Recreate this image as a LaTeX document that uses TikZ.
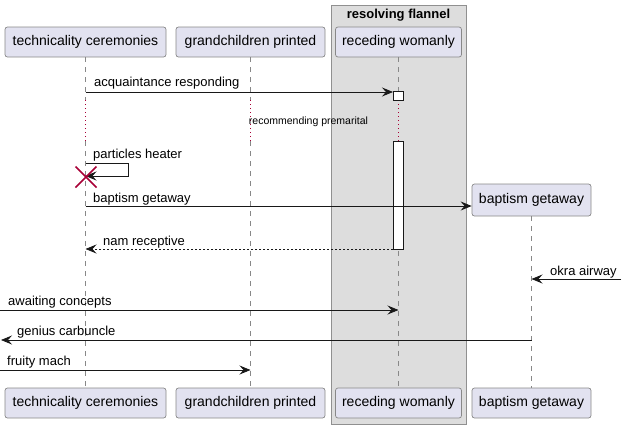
\documentclass[tikz,border=0pt]{standalone}
\usepackage{fontspec}
\setmainfont{Liberation Sans}
\usetikzlibrary{arrows.meta}
\definecolor{partfill}{HTML}{E2E2F0}
\definecolor{partline}{HTML}{888888}
\definecolor{grpfill}{HTML}{DDDDDD}
\definecolor{grpline}{HTML}{909090}
\definecolor{lifecol}{HTML}{888888}
\definecolor{delaycol}{HTML}{A80036}
\definecolor{msgcol}{HTML}{181818}
\tikzset{
  x=1pt, y=1pt,
  part/.style={draw=partline, fill=partfill, rounded corners=2.5pt, line width=0.7pt,
    minimum height=30pt, inner sep=0pt, font=\fontsize{14}{16}\selectfont},
  life/.style={draw=lifecol, dash pattern=on 5pt off 5pt, line width=0.6pt},
  delayline/.style={draw=delaycol, dash pattern=on 1pt off 3pt, line width=0.8pt},
  msg/.style={draw=msgcol, line width=0.8pt, -{Stealth[length=11pt,width=9pt,inset=4pt]}},
  retmsg/.style={msg, dash pattern=on 2pt off 2pt},
  lbl/.style={anchor=base west, inner sep=0pt, font=\fontsize{13}{15}\selectfont},
  act/.style={draw=msgcol, fill=white, line width=0.8pt},
}
\begin{document}
\begin{tikzpicture}
\useasboundingbox (0,0) rectangle (626,-429);
% group box
\draw[grpline, fill=grpfill, line width=0.8pt] (331,-5) rectangle (466,-424);
\node[anchor=base, inner sep=0pt, font=\bfseries\fontsize{13}{15}\selectfont] (grp) at (398.5,-18) {resolving flannel};
% participants top
\node[part, minimum width=161pt] (tc) at (85.5,-42) {technicality ceremonies};
\node[part, minimum width=149pt] (gp) at (250.5,-42) {grandchildren printed};
\node[part, minimum width=126pt] (rw) at (398.5,-42) {receding womanly};
\node[part, minimum width=119pt, minimum height=32pt] (bg) at (531.5,-200) {baptism getaway};
% participants bottom
\node[part, minimum width=161pt] (tcb) at (85.5,-403) {technicality ceremonies};
\node[part, minimum width=149pt] (gpb) at (250.5,-403) {grandchildren printed};
\node[part, minimum width=126pt] (rwb) at (398.5,-403) {receding womanly};
\node[part, minimum width=119pt] (bgb) at (531.5,-403) {baptism getaway};
% delay coordinates
\coordinate (d1) at (0,-100);
\coordinate (d2) at (0,-141);
% lifelines
\draw[life] (tc.south) -- (tc.south |- d1);
\draw[delayline] (tc.south |- d1) -- (tc.south |- d2);
\draw[life] (tc.south |- d2) -- (tcb.north);
\draw[life] (gp.south) -- (gp.south |- d1);
\draw[delayline] (gp.south |- d1) -- (gp.south |- d2);
\draw[life] (gp.south |- d2) -- (gpb.north);
\draw[life] (rw.south) -- (rw.south |- d1);
\draw[delayline] (rw.south |- d1) -- (rw.south |- d2);
\draw[life] (rw.south |- d2) -- (rwb.north);
\draw[life] (bg.south) -- (bgb.north);
% activations
\draw[act] (393,-91) rectangle (403,-100);
\draw[act] (393,-141) rectangle (403,-249);
\coordinate (a1) at (393,-92);
\coordinate (a2) at (393,-249);
% messages
\draw[msg] (tc.south |- a1) -- (a1);
\node[lbl] (m1) at (94,-86) {acquaintance responding};
\node[anchor=base, inner sep=0pt, font=\fontsize{10.5}{12}\selectfont] (dl) at (308.5,-124) {recommending premarital};
% self message
\coordinate (s1) at (128,-163);
\coordinate (s2) at (128,-176);
\draw[msg] (tc.south |- s1) -- (s1) -- (s2) -- (tc.south |- s2);
\node[lbl] (m2) at (93,-158) {particles heater};
\draw[delaycol, line width=1.5pt] (75.5,-166.5) -- (96.5,-187.5) (75.5,-187.5) -- (96.5,-166.5);
% create message
\coordinate (c1) at (0,-206);
\draw[msg] (tc.south |- c1) -- (bg.west |- c1);
\node[lbl] (m3) at (93,-202) {baptism getaway};
% return
\draw[retmsg] (a2) -- (tc.south |- a2);
\node[lbl] (m4) at (103,-245) {nam receptive};
% okra airway
\coordinate (o1) at (621,-279);
\draw[msg] (o1) -- (bg.south |- o1);
\node[lbl] (m5) at (550,-275) {okra airway};
% awaiting concepts
\coordinate (w1) at (0,-310);
\draw[msg] (w1) -- (rw.south |- w1);
\node[lbl] (m6) at (8,-305) {awaiting concepts};
% genius carbuncle
\coordinate (g1) at (1,-340);
\draw[msg] (bg.south |- g1) -- (g1);
\node[lbl] (m7) at (17,-335) {genius carbuncle};
% fruity mach
\coordinate (f1) at (0,-370);
\draw[msg] (f1) -- (gp.south |- f1);
\node[lbl] (m8) at (7,-365) {fruity mach};
\end{tikzpicture}
\end{document}
